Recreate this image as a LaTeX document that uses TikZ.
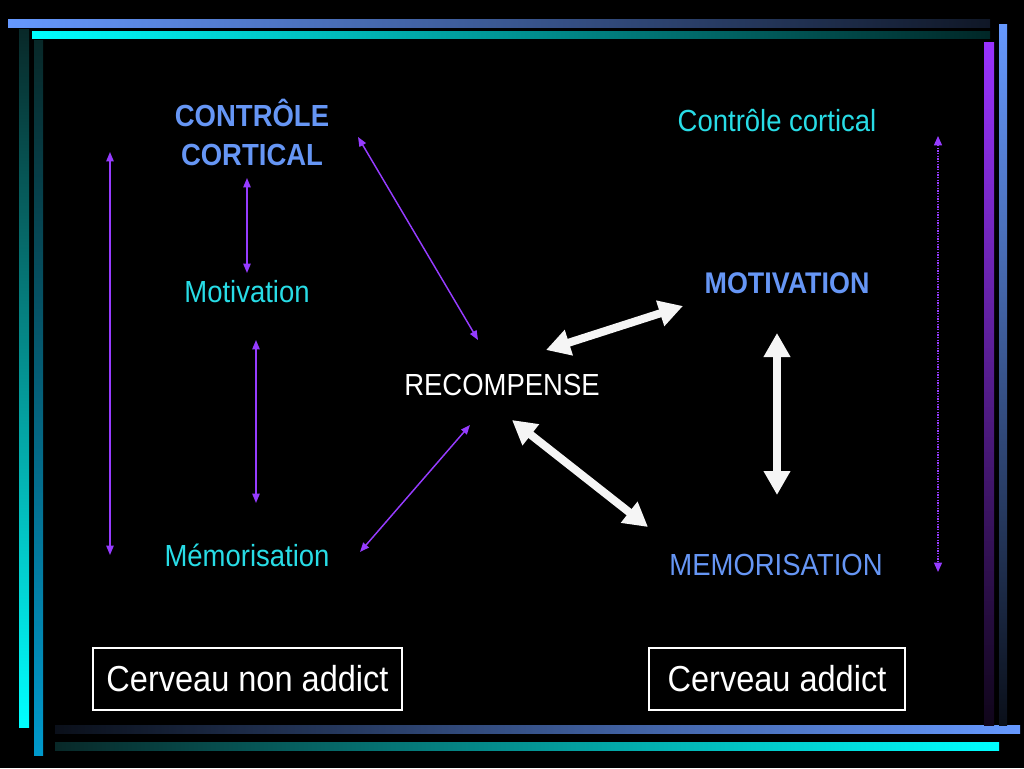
\documentclass[tikz,border=0pt]{standalone}
\usepackage{fontspec}
\setmainfont{Liberation Sans}[FakeStretch=0.9]
\usetikzlibrary{arrows.meta}

\definecolor{barBlue}{RGB}{102,153,255}
\definecolor{barCyan}{RGB}{0,255,255}
\definecolor{barSea}{RGB}{0,153,204}
\definecolor{barPurple}{RGB}{153,51,255}
\definecolor{barDark}{RGB}{8,40,40}
\definecolor{txtBlue}{RGB}{102,150,245}
\definecolor{txtCyan}{RGB}{40,220,230}
\definecolor{arrPurple}{RGB}{150,60,255}

\begin{document}
\begin{tikzpicture}[x=0.75pt, y=-0.75pt,
  every node/.style={align=center, inner sep=0pt},
  titleB/.style={font=\fontsize{22.9}{29.3}\selectfont\bfseries, text=txtBlue},
  labelC/.style={font=\fontsize{22.9}{28}\selectfont, text=txtCyan, anchor=base},
  labelN/.style={font=\fontsize{22.9}{28}\selectfont, text=txtBlue, anchor=base},
  labelW/.style={font=\fontsize{22.9}{28}\selectfont, text=white, anchor=base},
  brainBox/.style={draw=white, line width=1.5pt, minimum height=46.5pt,
                   font=\fontsize{27.1}{33}\selectfont, text=white},
  thinArr/.style={draw=arrPurple, line width=1.1pt,
                  {Triangle[length=7pt,width=5.5pt]}-{Triangle[length=7pt,width=5.5pt]}},
  dotArr/.style={draw=arrPurple, line width=1pt, dash pattern=on 1pt off 1pt,
                 {Triangle[length=7pt,width=6pt]}-{Triangle[length=7pt,width=6pt]}},
  bigArr/.style={draw=white!96!black, line width=6pt,
                 {Triangle[length=18pt,width=19pt]}-{Triangle[length=18pt,width=19pt]}}
]
\useasboundingbox (0,0) rectangle (1024,768);
\fill[black] (0,0) rectangle (1024,768);

% FRAME: top bars fade to the right, bottom bars fade to the left
\shade[left color=barBlue, right color=barBlue!15!black] (8,19) rectangle (990,27);
\shade[left color=barCyan, right color=barCyan!15!black] (32,31) rectangle (990,38);
\shade[top color=barDark, bottom color=barCyan] (19,29) rectangle (29,727);
\shade[top color=barDark, bottom color=barSea] (34,40) rectangle (43,755);
\shade[left color=barBlue!10!black, right color=barBlue] (55,725) rectangle (1020,733);
\shade[left color=barDark, right color=barCyan] (55,742) rectangle (999,750);
\shade[top color=barPurple, bottom color=barPurple!10!black] (984,42) rectangle (994,725);
\shade[top color=barBlue, bottom color=barBlue!10!black] (999,24) rectangle (1007,725);

% LEFT: CERVEAU NON ADDICT
\node[titleB] (ctrlL) at (252,132) {CONTRÔLE\\CORTICAL};
\node[labelC] (motL) at (247,302) {Motivation};
\node[labelC] (memL) at (247,566) {Mémorisation};
\node[brainBox, minimum width=231.75pt] (boxL) at (247.5,679) {Cerveau non addict};

% CENTRE
\node[labelW] (rec) at (502,395) {RECOMPENSE};

% RIGHT: CERVEAU ADDICT
\node[labelC] (ctrlR) at (777,131) {Contrôle cortical};
\node[labelN, font=\fontsize{22.4}{28}\selectfont\bfseries] (motR) at (787,293) {MOTIVATION};
\node[labelN] (memR) at (776,575) {MEMORISATION};
\node[brainBox, minimum width=192pt] (boxR) at (777,679) {Cerveau addict};

% arrow ends
\coordinate (lTop) at (110,152);   \coordinate (lBot) at (110,555);
\coordinate (cmA) at (247,178);    \coordinate (cmB) at (247,273);
\coordinate (mmA) at (256,340);    \coordinate (mmB) at (256,503);
\coordinate (crA) at (358,137);    \coordinate (crB) at (478,340);
\coordinate (mrA) at (360,552);    \coordinate (mrB) at (470,425);
\coordinate (rmA) at (546,350);    \coordinate (rmB) at (683,306);
\coordinate (reA) at (512,420);    \coordinate (reB) at (648,527);
\coordinate (mvA) at (777,333);    \coordinate (mvB) at (777,495);
\coordinate (dTop) at (938,136);   \coordinate (dBot) at (938,572);

\draw[thinArr] (lTop) -- (lBot);
\draw[thinArr] (cmA) -- (cmB);
\draw[thinArr] (mmA) -- (mmB);
\draw[thinArr] (crA) -- (crB);
\draw[thinArr] (mrA) -- (mrB);
\draw[bigArr] (rmA) -- (rmB);
\draw[bigArr] (reA) -- (reB);
\draw[bigArr] (mvA) -- (mvB);
\draw[dotArr] (dTop) -- (dBot);
\end{tikzpicture}
\end{document}
